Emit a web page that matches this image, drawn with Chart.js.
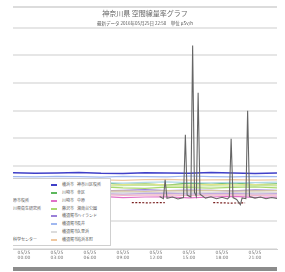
<!DOCTYPE html>
<html>
<head>
<meta charset="utf-8">
<script src="https://cdn.jsdelivr.net/npm/chart.js@4.4.1/dist/chart.umd.min.js"></script>
<style>
body{margin:0;background:#fff;width:285px;height:272px;overflow:hidden;font-family:"Noto Sans CJK JP",sans-serif}
#grafico{position:absolute;left:0;top:0}
#linhaTopo{position:absolute;left:13px;top:6px;width:264px;height:2px;background:#dcdcdc}
#barraBase{position:absolute;left:13px;top:267px;width:264px;height:4px;background:#8c8c8c}
#recorte{position:absolute;left:13px;top:0;width:264px;height:272px;overflow:hidden}
#legenda{position:absolute;left:-39px;top:178px;width:135px;height:66px;background:#fff;border:1px solid #cfcfcf}
.item{position:absolute;height:7.8px;line-height:7.8px;font-size:4px;color:#555;white-space:nowrap}
.cor{display:inline-block;width:6px;height:2px;vertical-align:middle;margin-right:5px}
.cidade{display:inline-block;width:15px}
</style>
</head>
<body>
<canvas id="grafico" width="285" height="272"></canvas>
<div id="linhaTopo"></div>
<div id="recorte"><div id="legenda"></div></div>
<div id="barraBase"></div>
<script>

const titulo="神奈川県 空間線量率グラフ"
const subtitulo="最新データ 2016年05月25日 22:50　単位 μSv/h"

// eixo x em horas
const tickHoras=[0,3,6,9,12,15,18,21]
const tickDatas=["05/25","05/25","05/25","05/25","05/25","05/25","05/25","05/25"]
const tickTempos=["00:00","03:00","06:00","09:00","12:00","15:00","18:00","21:00"]

const horas=[-1,1,3,5,7,9,11,13,15,17,19,21,23]

// coluna esquerda da legenda
const cidadesEsq=["横須賀市","横須賀市","相模原市","茅ヶ崎市","三浦市","鎌倉市","小田原市","平塚市"]
const locaisEsq=["長浦","浦郷","相模原市役所","神奈川県衛生研究所","三崎","腰越","久野","環境科学センター"]
const coresEsq=["#666666","#7a2020","#c8e6a0","#f4b8c8","#b0d8e8","#d8c8a0","#e4e488","#c0a8e0"]

// coluna direita da legenda
const cidadesDir=["横浜市","川崎市","川崎市","藤沢市","横須賀市","横須賀市","横須賀市","横須賀市"]
const locaisDir=["神奈川区役所","幸区","中原","湘南台公園","ハイランド","長井","久里浜","追浜本町"]
const coresDir=["#4040c8","#5cb85c","#e070c8","#a8d870","#9a80d8","#a0b8f0","#dcdcdc","#f0c8a0"]

// serie com picos (長浦)
const picosX=[12.33,12.67,12.83,13.0,13.5,14.0,14.5,14.67,14.83,15.17,15.33,15.5,15.67,15.83,16.0,16.5,17.0,17.5,18.0,18.5,18.67,18.83,19.0,19.33,19.67,19.83,20.17,20.33,20.5,21.0,21.5,22.0,22.5,23.0]
const picosY=[.0190,.0182,.0250,.0183,.0188,.0181,.0186,.0413,.0195,.0188,.0736,.0205,.0190,.0565,.0198,.0184,.0189,.0182,.0187,.0181,.0188,.0399,.0186,.0179,.0160,.0185,.0182,.0500,.0190,.0184,.0188,.0182,.0186,.0183]

// serie tracejada (浦郷), com lacuna
const tracoX=[9.8,11.3,12.8,13.0,17.2,18.7,20.1]
const tracoY=[.0168,.0167,.0168,null,.0168,.0166,.0167]

const sagamihara=[.0229,.0227,.0230,.0228,.0226,.0229,.0231,.0228,.0226,.0229,.0227,.0230,.0228]
const chigasaki=[.0195,.0196,.0194,.0195,.0197,.0194,.0195,.0196,.0193,.0195,.0196,.0194,.0195]
const misaki=[.0240,.0242,.0239,.0241,.0240,.0238,.0241,.0243,.0240,.0239,.0241,.0240,.0242]
const koshigoe=[.0210,.0209,.0211,.0212,.0209,.0210,.0208,.0211,.0210,.0212,.0209,.0210,.0211]
const kuno=[.0233,.0231,.0234,.0232,.0230,.0233,.0235,.0232,.0231,.0234,.0232,.0233,.0231]
const hiratsuka=[.0200,.0202,.0199,.0201,.0200,.0198,.0201,.0202,.0199,.0200,.0201,.0199,.0200]

const kanagawaku=[.0276,.0274,.0275,.0277,.0274,.0273,.0276,.0275,.0274,.0277,.0275,.0273,.0275]
const saiwai=[.0236,.0239,.0233,.0237,.0240,.0234,.0236,.0231,.0238,.0235,.0239,.0233,.0236]
const nakahara=[.0188,.0186,.0189,.0187,.0190,.0186,.0188,.0189,.0185,.0188,.0190,.0187,.0188]
const shonandai=[.0222,.0224,.0220,.0223,.0225,.0221,.0219,.0224,.0222,.0220,.0223,.0225,.0221]
const highland=[.0212,.0214,.0211,.0213,.0210,.0212,.0215,.0211,.0213,.0212,.0210,.0214,.0212]
const nagai=[.0262,.0261,.0263,.0262,.0260,.0263,.0262,.0261,.0264,.0262,.0261,.0263,.0262]
const kurihama=[.0205,.0204,.0206,.0205,.0203,.0206,.0205,.0204,.0206,.0205,.0204,.0206,.0205]
const oppama=[.0250,.0252,.0249,.0251,.0250,.0248,.0251,.0252,.0249,.0250,.0251,.0249,.0250]

function pares(xs,ys){
return xs.map((x,i)=>({x:x,y:ys[i]}))
}

function serie(label,cor,pontos,extra){
return Object.assign({
label:label,
data:pontos,
borderColor:cor,
backgroundColor:cor,
borderWidth:1.2,
pointRadius:0,
tension:0,
spanGaps:false,
fill:false
},extra||{})
}

const valoresEsq=[null,null,sagamihara,chigasaki,misaki,koshigoe,kuno,hiratsuka]
const valoresDir=[kanagawaku,saiwai,nakahara,shonandai,highland,nagai,kurihama,oppama]

let datasets=[]

cidadesEsq.forEach((c,i)=>{
let label=c+" "+locaisEsq[i]
if(i==0) datasets.push(serie(label,coresEsq[i],pares(picosX,picosY),{borderWidth:1.1}))
else if(i==1) datasets.push(serie(label,coresEsq[i],pares(tracoX,tracoY),{borderDash:[2,1.5]}))
else datasets.push(serie(label,coresEsq[i],pares(horas,valoresEsq[i])))
})

cidadesDir.forEach((c,i)=>{
let label=c+" "+locaisDir[i]
datasets.push(serie(label,coresDir[i],pares(horas,valoresDir[i]),i==0?{borderWidth:1.5}:{}))
})

new Chart(document.getElementById("grafico"),{

type:"line",

data:{datasets:datasets},

options:{
responsive:false,
animation:false,
layout:{padding:{left:13,right:8,top:0,bottom:12}},
plugins:{
legend:{display:false},
tooltip:{enabled:false},
title:{
display:true,
text:titulo,
color:"#666",
font:{size:7,family:"'Noto Sans CJK JP'",weight:"normal"},
padding:{top:9,bottom:1}
},
subtitle:{
display:true,
text:subtitulo,
color:"#555",
font:{size:4.5,family:"'Noto Sans CJK JP'"},
padding:{top:2,bottom:2}
}
},
scales:{
x:{
type:"linear",
min:-1,
max:23,
afterBuildTicks:eixo=>{eixo.ticks=tickHoras.map(v=>({value:v}))},
ticks:{
callback:v=>{let i=tickHoras.indexOf(v);return [tickDatas[i],tickTempos[i]]},
maxRotation:0,
autoSkip:false,
padding:0,
color:"#777",
font:{size:4.5,lineHeight:1,family:"'DejaVu Sans'"}
},
grid:{drawOnChartArea:false,tickLength:2,color:"#cfcfcf"},
border:{color:"#cfcfcf"}
},
y:{
min:0,
max:0.08,
ticks:{display:false,stepSize:0.01},
grid:{color:"#e6e6e6",lineWidth:2,drawTicks:false},
border:{display:false}
}
}
}

})

// legenda desenhada em HTML (duas colunas, cortada na borda esquerda)
let legenda=document.getElementById("legenda")

datasets.forEach((d,i)=>{
let col=i<8?0:1
let lin=i%8
let cidades=col==0?cidadesEsq:cidadesDir
let locais=col==0?locaisEsq:locaisDir
let item=document.createElement("div")
item.className="item"
item.style.left=(4+col*72)+"px"
item.style.top=(2.2+lin*7.8)+"px"
item.innerHTML=`<span class="cor" style="background:${d.borderColor}"></span><span class="cidade">${cidades[lin]}</span><span>${locais[lin]}</span>`
legenda.appendChild(item)
})

</script>
</body>
</html>
